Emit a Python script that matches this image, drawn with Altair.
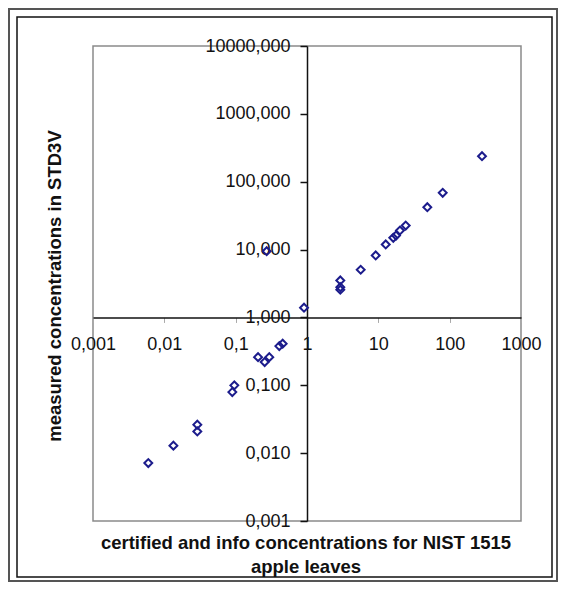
import altair as alt
import pandas as pd

# certified / info concentrations (x) and measured concentrations (y)
x_vals = [284, 79.9, 48.6, 24.2, 20.1, 17.7, 16.2, 12.7, 9.19, 5.66, 2.93, 2.93, 2.93, 0.908,
          0.456, 0.409, 0.296, 0.255, 0.206, 0.0957, 0.0897, 0.029, 0.029, 0.0134, 0.00596, 0.272]
y_vals = [237.6, 68.6, 42.1, 22.6, 19.1, 16.1, 14.9, 11.9, 8.19, 5.04, 3.51, 2.79, 2.56, 1.39,
          0.410, 0.378, 0.260, 0.220, 0.260, 0.0997, 0.0794, 0.0263, 0.0209, 0.0129, 0.00715, 9.47]

x_ticks = [0.001, 0.01, 0.1, 1, 10, 100, 1000]
y_ticks = [0.001, 0.01, 0.1, 1, 10, 100, 1000, 10000]

x_title = "certified and info concentrations for NIST 1515\napple leaves"
y_title = "measured concentrations  in STD3V"

W, H = 428, 475
FONT = "Liberation Sans"

df = pd.DataFrame({"x": x_vals, "y": y_vals})
one = pd.DataFrame({"a": [0]})

points = alt.Chart(df).mark_point(
    shape="diamond", filled=False, size=62, strokeWidth=2, color="#1c1c8c", opacity=1
).encode(
    x=alt.X("x:Q",
            scale=alt.Scale(type="log", domain=[0.001, 1000], nice=False),
            axis=alt.Axis(values=x_ticks, offset=-(H - H * 4 / 7), title=None,
                          labelExpr="replace(format(datum.value, '~g'), '.', ',')",
                          labelFontSize=18, labelFont=FONT, labelColor="#111",
                          labelFlush=False, labelOverlap=False, labelBound=False,
                          tickSize=5, tickColor="#aaaaaa", labelPadding=13,
                          domainColor="#111", domainWidth=1.5, grid=False)),
    y=alt.Y("y:Q",
            scale=alt.Scale(type="log", domain=[0.001, 10000], nice=False),
            axis=alt.Axis(values=y_ticks, offset=-(W / 2), title=None,
                          labelExpr="replace(format(datum.value, '.3f'), '.', ',')",
                          labelFontSize=18, labelFont=FONT, labelColor="#111",
                          labelFlush=False, labelOverlap=False, labelBound=False,
                          tickSize=7, tickColor="#111", tickWidth=1.5, labelPadding=10,
                          domainColor="#111", domainWidth=1.5, grid=False)),
)

xt = alt.Chart(one).mark_text(
    font=FONT, fontSize=18.5, fontWeight="bold", align="center", baseline="top",
    lineBreak="\n", lineHeight=24, color="#111"
).encode(x=alt.value(W / 2 - 1), y=alt.value(488), text=alt.value(x_title))

yt = alt.Chart(one).mark_text(
    font=FONT, fontSize=18.5, fontWeight="bold", align="center", baseline="middle",
    angle=270, color="#111"
).encode(x=alt.value(-38), y=alt.value(240), text=alt.value(y_title))

outer = alt.Chart(one).mark_rect(fill="transparent", stroke="#555555", strokeWidth=2).encode(
    x=alt.value(-84), x2=alt.value(464), y=alt.value(-37), y2=alt.value(535))
inner = alt.Chart(one).mark_rect(fill="transparent", stroke="#111111", strokeWidth=1.5).encode(
    x=alt.value(-76), x2=alt.value(459), y=alt.value(-29), y2=alt.value(531))

chart = alt.layer(outer, inner, points, xt, yt).properties(
    width=W, height=H,
    autosize=alt.AutoSizeParams(type="none"),
    padding={"left": 85, "top": 38, "right": 37, "bottom": 61},
    background="white",
).configure_view(stroke="#8a8a8a", strokeWidth=1.5)

chart.save("out.html", embed_options={"renderer": "svg", "actions": False})
